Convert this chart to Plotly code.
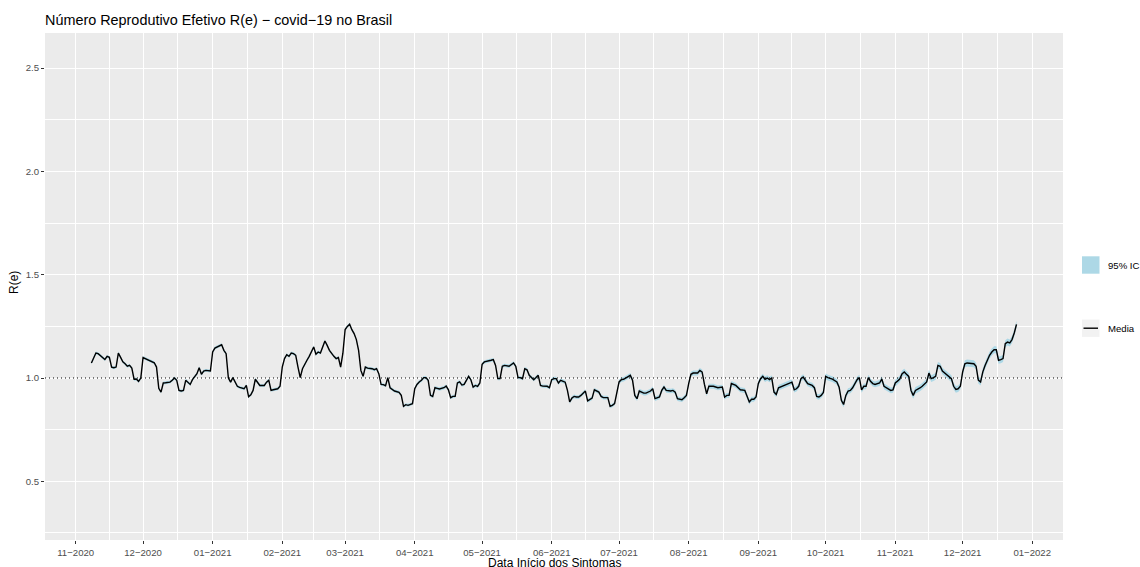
import pandas as pd
import plotly.graph_objects as go

# Effective reproduction number R(e) for covid-19 in Brazil, by symptom-onset date
start_date = "2020-11-01"

day_offset = [
    7, 9, 10, 12, 13, 14, 15, 16, 17, 18, 19, 20, 21, 22, 23, 24, 25, 26, 27, 28, 29,
    30, 31, 32, 34, 35, 36, 37, 38, 39, 40, 42, 43, 44, 45, 46, 47, 48, 49, 50, 51, 52,
    54, 55, 56, 57, 58, 60, 61, 62, 63, 64, 65, 66, 67, 68, 69, 70, 71, 72, 73, 74, 75,
    76, 77, 78, 79, 80, 81, 82, 84, 85, 86, 87, 88, 90, 91, 92, 93, 94, 95, 96, 97, 98,
    99, 100, 101, 102, 103, 104, 106, 107, 108, 109, 111, 112, 113, 115, 116, 117, 118,
    119, 120, 121, 122, 123, 124, 125, 126, 127, 128, 129, 130, 132, 133, 134, 135, 136,
    137, 138, 139, 140, 141, 142, 144, 145, 146, 147, 148, 150, 151, 152, 153, 154, 155,
    156, 157, 158, 159, 160, 161, 162, 164, 165, 166, 167, 168, 169, 170, 171, 172, 173,
    174, 175, 176, 177, 178, 179, 180, 181, 182, 184, 185, 186, 187, 188, 189, 190, 191,
    193, 194, 195, 196, 197, 198, 199, 200, 201, 202, 203, 204, 205, 206, 207, 208, 210,
    211, 212, 213, 214, 215, 216, 217, 218, 219, 220, 221, 222, 223, 224, 225, 227, 228,
    229, 230, 231, 233, 234, 235, 237, 238, 239, 240, 242, 243, 244, 245, 246, 247, 248,
    249, 250, 251, 253, 254, 256, 257, 258, 260, 261, 262, 263, 265, 266, 267, 268, 270,
    271, 272, 273, 274, 275, 277, 278, 279, 280, 281, 282, 284, 286, 288, 289, 290, 291,
    292, 294, 295, 296, 298, 299, 300, 301, 302, 303, 304, 305, 306, 307, 308, 309, 310,
    311, 312, 313, 315, 316, 318, 319, 320, 321, 322, 323, 324, 325, 326, 328, 329, 330,
    331, 332, 333, 334, 335, 337, 338, 339, 340, 341, 342, 343, 344, 345, 346, 347, 348,
    349, 350, 351, 352, 353, 354, 355, 356, 358, 359, 360, 361, 362, 363, 364, 365, 366,
    367, 368, 369, 370, 371, 372, 373, 374, 375, 376, 377, 378, 379, 380, 381, 382, 383,
    384, 385, 386, 387, 388, 389, 390, 391, 392, 393, 394, 395, 396, 397, 399, 400, 401,
    402, 403, 404, 405, 406, 407, 408, 409, 410, 411, 412, 413, 414, 415, 416, 417, 418,
    419,
]

r_mean = [
    1.073, 1.121, 1.118, 1.102, 1.090, 1.105, 1.100, 1.053, 1.050, 1.053, 1.121, 1.100,
    1.078, 1.069, 1.057, 1.061, 1.048, 0.994, 0.995, 0.984, 1.000, 1.099, 1.094, 1.086,
    1.078, 1.074, 1.053, 0.950, 0.932, 0.976, 0.977, 0.980, 0.989, 1.000, 0.989, 0.940,
    0.937, 0.940, 0.989, 0.980, 0.969, 0.992, 1.021, 1.050, 1.018, 1.034, 1.037, 1.034,
    1.126, 1.145, 1.150, 1.153, 1.161, 1.134, 1.118, 1.000, 0.980, 1.002, 0.980, 0.960,
    0.955, 0.952, 0.948, 0.964, 0.910, 0.919, 0.940, 0.994, 0.976, 0.964, 0.964, 0.980,
    0.989, 0.940, 0.943, 0.948, 0.960, 1.053, 1.094, 1.113, 1.105, 1.121, 1.118, 1.110,
    1.053, 1.002, 1.045, 1.069, 1.086, 1.105, 1.150, 1.115, 1.126, 1.121, 1.179, 1.158,
    1.134, 1.105, 1.094, 1.099, 1.053, 1.120, 1.235, 1.250, 1.260, 1.234, 1.215, 1.186,
    1.134, 1.037, 1.008, 1.053, 1.048, 1.045, 1.040, 1.045, 1.021, 0.969, 0.968, 0.963,
    1.002, 0.953, 0.943, 0.937, 0.931, 0.916, 0.863, 0.871, 0.868, 0.876, 0.948, 0.969,
    0.981, 0.989, 1.002, 1.002, 0.989, 0.916, 0.911, 0.953, 0.950, 0.947, 0.953, 0.961,
    0.943, 0.905, 0.911, 0.911, 0.976, 0.981, 0.966, 0.969, 0.989, 1.008, 0.992, 0.956,
    0.964, 0.960, 0.976, 1.066, 1.078, 1.081, 1.086, 1.089, 1.061, 0.997, 0.997, 1.057,
    1.061, 1.057, 1.066, 1.073, 1.057, 1.002, 1.002, 0.997, 1.045, 1.040, 1.013, 1.002,
    0.992, 1.002, 1.013, 0.964, 0.961, 0.960, 0.953, 0.992, 0.997, 0.997, 0.976, 0.989,
    0.985, 0.980, 0.940, 0.884, 0.903, 0.911, 0.908, 0.908, 0.916, 0.937, 0.889, 0.895,
    0.903, 0.943, 0.932, 0.911, 0.905, 0.905, 0.863, 0.868, 0.876, 0.981, 0.992, 0.994,
    1.000, 1.008, 1.013, 0.989, 0.916, 0.900, 0.937, 0.927, 0.927, 0.937, 0.948, 0.900,
    0.908, 0.940, 0.956, 0.940, 0.937, 0.940, 0.932, 0.900, 0.895, 0.905, 0.916, 0.973,
    1.018, 1.024, 1.024, 1.037, 1.029, 0.970, 0.924, 0.960, 0.960, 0.953, 0.956, 0.908,
    0.916, 0.916, 0.973, 0.964, 0.953, 0.943, 0.940, 0.908, 0.884, 0.897, 0.897, 0.908,
    0.973, 0.997, 1.008, 0.994, 1.000, 0.992, 1.000, 0.932, 0.921, 0.953, 0.963, 0.969,
    0.976, 0.980, 0.943, 0.948, 0.960, 0.997, 1.005, 0.989, 0.973, 0.964, 0.953, 0.911,
    0.908, 0.916, 0.930, 1.008, 1.002, 0.995, 0.989, 0.981, 0.956, 0.892, 0.872, 0.916,
    0.937, 0.940, 0.953, 0.973, 0.992, 1.002, 0.943, 0.960, 0.960, 1.002, 0.984, 0.973,
    0.969, 0.976, 0.995, 0.960, 0.953, 0.945, 0.940, 0.943, 0.976, 0.985, 0.995, 1.020,
    1.029, 1.018, 1.008, 0.940, 0.916, 0.940, 0.945, 0.952, 0.960, 0.970, 0.981, 1.024,
    0.997, 1.002, 1.008, 1.061, 1.057, 1.034, 1.025, 1.018, 1.008, 0.997, 0.960, 0.945,
    0.948, 0.960, 1.029, 1.069, 1.073, 1.069, 1.069, 1.057, 0.990, 0.981, 1.030, 1.061,
    1.089, 1.110, 1.126, 1.137, 1.137, 1.086, 1.089, 1.094, 1.166, 1.174, 1.170, 1.186,
    1.218, 1.260,
]

# Half-width of the 95% interval, per calendar month
ci_month = ["2020-11", "2020-12", "2021-01", "2021-02", "2021-03", "2021-04", "2021-05",
            "2021-06", "2021-07", "2021-08", "2021-09", "2021-10", "2021-11", "2021-12"]
ci_halfwidth = [0.007, 0.007, 0.007, 0.007, 0.007, 0.008, 0.008,
                0.009, 0.011, 0.012, 0.013, 0.014, 0.016, 0.017]

tick_dates = ["2020-11-01", "2020-12-01", "2021-01-01", "2021-02-01", "2021-03-01",
              "2021-04-01", "2021-05-01", "2021-06-01", "2021-07-01", "2021-08-01",
              "2021-09-01", "2021-10-01", "2021-11-01", "2021-12-01", "2022-01-01"]
tick_labels = ["11−2020", "12−2020", "01−2021", "02−2021", "03−2021", "04−2021",
               "05−2021", "06−2021", "07−2021", "08−2021", "09−2021", "10−2021",
               "11−2021", "12−2021", "01−2022"]
y_ticks = [0.5, 1.0, 1.5, 2.0, 2.5]
y_tick_labels = ["0.5", "1.0", "1.5", "2.0", "2.5"]
y_minor = [0.25, 0.75, 1.25, 1.75, 2.25]

# ---- derived series ----
dates = pd.to_datetime(start_date) + pd.to_timedelta(day_offset, unit="D")
hw_of_month = dict(zip(ci_month, ci_halfwidth))
half = [hw_of_month[d.strftime("%Y-%m")] for d in dates]
ci_lower = [m - h for m, h in zip(r_mean, half)]
ci_upper = [m + h for m, h in zip(r_mean, half)]

tick_ts = pd.to_datetime(tick_dates)
minor_x = [a + (b - a) / 2 for a, b in zip(tick_ts[:-1], tick_ts[1:])]

FONT = "Liberation Sans, Arial, Helvetica, sans-serif"
W, H = 1140, 567
ML, MR, MT, MB = 45, 77, 33, 27
PW, PH = W - ML - MR, H - MT - MB


def px_x(x):
    return (x - ML) / PW


def px_y(y):
    return (H - MB - y) / PH


fig = go.Figure()

fig.add_trace(go.Scatter(x=dates, y=ci_lower, mode="lines", line=dict(width=0),
                         hoverinfo="skip", showlegend=False))
fig.add_trace(go.Scatter(x=dates, y=ci_upper, mode="lines", line=dict(width=0),
                         fill="tonexty", fillcolor="#ADD8E6", name="95% IC",
                         showlegend=False))
fig.add_trace(go.Scatter(x=dates, y=r_mean, mode="lines",
                         line=dict(color="black", width=1.4), name="Media",
                         showlegend=False))

# reference line at R = 1
fig.add_shape(type="line", xref="paper", x0=0, x1=1, yref="y", y0=1, y1=1,
              line=dict(color="black", width=1.1, dash="1px,3px"))

axis_common = dict(
    showgrid=True, gridcolor="white", gridwidth=1.1, zeroline=False, showline=False,
    ticks="outside", ticklen=3, tickwidth=1.1, tickcolor="#333333",
    tickfont=dict(family=FONT, size=9.6, color="#4D4D4D"), automargin=False,
    fixedrange=True,
)

fig.update_xaxes(
    type="date", range=["2020-10-18 08:00", "2022-01-14 17:00"],
    tickmode="array", tickvals=tick_ts, ticktext=tick_labels,
    minor=dict(tickmode="array", tickvals=minor_x, showgrid=True,
               gridcolor="white", gridwidth=0.55, ticks=""),
    **axis_common,
)
fig.update_yaxes(
    range=[0.216, 2.670], tickmode="array", tickvals=y_ticks, ticktext=y_tick_labels,
    minor=dict(tickmode="array", tickvals=y_minor, showgrid=True,
               gridcolor="white", gridwidth=0.55, ticks=""),
    **axis_common,
)

# legend keys
fig.add_shape(type="rect", xref="paper", yref="paper",
              x0=px_x(1082), x1=px_x(1099.5), y0=px_y(256.3), y1=px_y(273.7),
              fillcolor="#ADD8E6", line=dict(width=0))
fig.add_shape(type="rect", xref="paper", yref="paper",
              x0=px_x(1082), x1=px_x(1099.5), y0=px_y(319.5), y1=px_y(336.9),
              fillcolor="#F2F2F2", line=dict(width=0))
fig.add_shape(type="line", xref="paper", yref="paper",
              x0=px_x(1083.5), x1=px_x(1098), y0=px_y(328.2), y1=px_y(328.2),
              line=dict(color="black", width=1.4))

annotations = [
    dict(text="95% IC", x=px_x(1106), y=px_y(265), xanchor="left", yanchor="middle",
         font=dict(size=9.6, color="black")),
    dict(text="Media", x=px_x(1106), y=px_y(328.2), xanchor="left", yanchor="middle",
         font=dict(size=9.6, color="black")),
    dict(text="Data Início dos Sintomas", x=0.5, y=px_y(562.5), xanchor="center",
         yanchor="middle", font=dict(size=12, color="black")),
    dict(text="R(e)", x=px_x(14), y=px_y(283), xanchor="center", yanchor="middle",
         textangle=-90, font=dict(size=12, color="black")),
]
for a in annotations:
    a.update(xref="paper", yref="paper", showarrow=False)
    a["font"]["family"] = FONT
fig.update_layout(annotations=annotations)

fig.update_layout(
    width=W, height=H,
    margin=dict(l=ML, r=MR, t=MT, b=MB, pad=0, autoexpand=False),
    paper_bgcolor="white", plot_bgcolor="#EBEBEB",
    font=dict(family=FONT, color="black"),
    showlegend=False,
    hovermode="x",
    title=dict(text="Número Reprodutivo Efetivo R(e) − covid−19 no Brasil",
               xref="paper", x=0, xanchor="left",
               yref="container", y=1 - 20 / H, yanchor="middle",
               font=dict(family=FONT, size=14.4, color="black")),
)

fig.write_html("out.html")
